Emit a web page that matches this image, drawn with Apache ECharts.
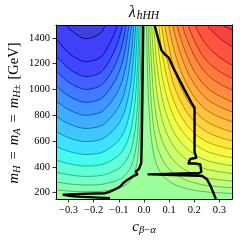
<!DOCTYPE html>
<html><head><meta charset="utf-8">
<script src="https://cdn.jsdelivr.net/npm/echarts@6/dist/echarts.min.js"></script>
<style>html,body{margin:0;padding:0;background:#fff}#c{width:240px;height:242px}</style>
</head><body><div id="c"></div>
<script>
// ---- tick labels ----
const xTicks = [-0.3, -0.2, -0.1, 0.0, 0.1, 0.2, 0.3];
const yTicks = [200, 400, 600, 800, 1000, 1200, 1400];

// ---- contour lines: [c_beta-alpha, m_H] ----
// negative levels (left), innermost first
const negLevel1 = [[-0.31,1500],[-0.30,1477],[-0.27,1428],[-0.235,1395],[-0.20,1408],[-0.17,1442],[-0.154,1500]];
const negLevel2 = [[-0.35,1395],[-0.32,1324],[-0.30,1285],[-0.27,1243],[-0.235,1215],[-0.20,1226],[-0.17,1255],[-0.145,1324],[-0.12,1426],[-0.106,1500]];
const negLevel3 = [[-0.35,1261],[-0.32,1198],[-0.30,1163],[-0.27,1125],[-0.235,1100],[-0.20,1110],[-0.17,1136],[-0.145,1198],[-0.12,1289],[-0.10,1387],[-0.085,1500]];
const negLevel4 = [[-0.35,1145],[-0.32,1088],[-0.30,1057],[-0.27,1023],[-0.235,1000],[-0.20,1009],[-0.17,1032],[-0.145,1088],[-0.12,1170],[-0.10,1258],[-0.08,1400],[-0.072,1500]];
const negLevel5 = [[-0.35,1029],[-0.32,978],[-0.30,950],[-0.27,920],[-0.235,900],[-0.20,908],[-0.17,929],[-0.145,978],[-0.12,1050],[-0.10,1129],[-0.08,1255],[-0.065,1427],[-0.06,1500]];
const negLevel6 = [[-0.35,912],[-0.32,868],[-0.30,844],[-0.27,818],[-0.235,800],[-0.20,807],[-0.17,825],[-0.145,868],[-0.12,931],[-0.10,1000],[-0.08,1110],[-0.065,1260],[-0.0495,1500]];
const negLevel7 = [[-0.35,793],[-0.32,755],[-0.30,734],[-0.27,712],[-0.235,697],[-0.20,703],[-0.17,718],[-0.145,755],[-0.12,809],[-0.10,867],[-0.08,961],[-0.065,1088],[-0.05,1284],[-0.041,1500]];
const negLevel8 = [[-0.35,674],[-0.32,643],[-0.30,626],[-0.27,607],[-0.235,595],[-0.20,600],[-0.17,613],[-0.145,643],[-0.12,687],[-0.10,736],[-0.08,813],[-0.065,918],[-0.05,1080],[-0.035,1421],[-0.033,1500]];
const negLevel9 = [[-0.35,558],[-0.32,533],[-0.30,520],[-0.27,505],[-0.235,495],[-0.20,499],[-0.17,509],[-0.145,533],[-0.12,568],[-0.10,607],[-0.08,668],[-0.065,752],[-0.05,880],[-0.035,1151],[-0.026,1500]];
const negLevel10 = [[-0.35,453],[-0.32,434],[-0.30,424],[-0.27,413],[-0.235,405],[-0.20,408],[-0.17,416],[-0.145,434],[-0.12,461],[-0.10,491],[-0.08,538],[-0.065,602],[-0.05,700],[-0.035,907],[-0.025,1203],[-0.020,1500]];
const negLevel11 = [[-0.35,360],[-0.32,346],[-0.30,339],[-0.27,330],[-0.235,325],[-0.20,327],[-0.17,333],[-0.145,346],[-0.12,366],[-0.10,387],[-0.08,422],[-0.065,468],[-0.05,540],[-0.035,691],[-0.025,906],[-0.015,1500]];
const negLevel12 = [[-0.35,282],[-0.32,273],[-0.30,267],[-0.27,262],[-0.235,258],[-0.20,259],[-0.17,263],[-0.145,273],[-0.12,286],[-0.10,301],[-0.08,324],[-0.065,357],[-0.05,406],[-0.035,510],[-0.025,658],[-0.015,1065],[-0.0105,1500]];
const negLevel13 = [[-0.35,222],[-0.32,215],[-0.30,212],[-0.27,208],[-0.235,206],[-0.20,207],[-0.17,209],[-0.145,215],[-0.12,224],[-0.10,234],[-0.08,249],[-0.065,270],[-0.05,302],[-0.035,369],[-0.025,466],[-0.015,729],[-0.008,1310],[-0.007,1500]];

// positive levels (right), innermost (corner) first
const posLevel0 = [[0.35,1462],[0.33,1480],[0.31,1500]];
const posLevel1 = [[0.35,1332],[0.32,1370],[0.29,1417],[0.26,1475],[0.25,1500]];
const posLevel2 = [[0.35,1190],[0.32,1223],[0.29,1265],[0.26,1317],[0.23,1396],[0.203,1500]];
const posLevel3 = [[0.35,1086],[0.32,1116],[0.29,1154],[0.26,1200],[0.23,1272],[0.20,1378],[0.175,1500]];
const posLevel4 = [[0.35,996],[0.32,1023],[0.29,1058],[0.26,1100],[0.23,1165],[0.20,1261],[0.17,1394],[0.152,1500]];
const posLevel5 = [[0.35,905],[0.32,930],[0.29,960],[0.26,998],[0.23,1056],[0.20,1142],[0.17,1262],[0.14,1435],[0.131,1500]];
const posLevel6 = [[0.35,827],[0.32,849],[0.29,877],[0.26,911],[0.23,964],[0.20,1041],[0.17,1149],[0.14,1305],[0.114,1500]];
const posLevel7 = [[0.35,750],[0.32,770],[0.29,794],[0.26,825],[0.23,872],[0.20,941],[0.17,1038],[0.14,1177],[0.115,1341],[0.098,1500]];
const posLevel8 = [[0.35,672],[0.32,689],[0.29,711],[0.26,738],[0.23,779],[0.20,840],[0.17,925],[0.14,1047],[0.115,1191],[0.09,1417],[0.083,1500]];
const posLevel9 = [[0.35,602],[0.32,617],[0.29,636],[0.26,660],[0.23,696],[0.20,749],[0.17,823],[0.14,930],[0.115,1056],[0.09,1254],[0.0695,1500]];
const posLevel10 = [[0.35,535],[0.32,548],[0.29,565],[0.26,585],[0.23,616],[0.20,662],[0.17,726],[0.14,818],[0.115,927],[0.09,1098],[0.07,1307],[0.0585,1500]];
const posLevel11 = [[0.35,470],[0.32,481],[0.29,495],[0.26,512],[0.23,539],[0.20,578],[0.17,632],[0.14,710],[0.115,802],[0.09,947],[0.07,1124],[0.05,1443],[0.0478,1500]];
const posLevel12 = [[0.35,408],[0.32,417],[0.29,429],[0.26,443],[0.23,465],[0.20,497],[0.17,542],[0.14,607],[0.115,683],[0.09,803],[0.07,949],[0.05,1214],[0.0388,1500]];
const posLevel13 = [[0.35,348],[0.32,355],[0.29,365],[0.26,376],[0.23,393],[0.20,419],[0.17,455],[0.14,507],[0.115,568],[0.09,663],[0.07,780],[0.05,991],[0.035,1330],[0.0306,1500]];
const posLevel14 = [[0.35,289],[0.32,295],[0.29,301],[0.26,310],[0.23,323],[0.20,342],[0.17,369],[0.14,408],[0.115,454],[0.09,526],[0.07,614],[0.05,773],[0.035,1028],[0.025,1389],[0.0229,1500]];
const posLevel15 = [[0.35,237],[0.32,241],[0.29,246],[0.26,252],[0.23,261],[0.20,275],[0.17,294],[0.14,322],[0.115,354],[0.09,405],[0.07,468],[0.05,580],[0.035,761],[0.025,1017],[0.0158,1500]];
const posLevel16 = [[0.35,193],[0.32,196],[0.29,199],[0.26,203],[0.23,209],[0.20,218],[0.17,230],[0.14,248],[0.115,270],[0.09,303],[0.07,344],[0.05,417],[0.035,536],[0.025,703],[0.015,1064],[0.0103,1500]];

// thick black boundary lines
const boundaryLeft = [[-0.003,1500],[-0.005,1150],[-0.007,850],[-0.009,600],[-0.011,430],[-0.020,383],[-0.032,364],[-0.027,340],[-0.045,325],[-0.065,300],[-0.082,274],[-0.092,252],[-0.100,240],[-0.118,222],[-0.140,203],[-0.155,195],[-0.250,190],[-0.320,183],[-0.325,176],[-0.280,170],[-0.200,163],[-0.135,157]];
const boundaryRight = [[0.042,1500],[0.056,1397],[0.069,1307],[0.085,1268],[0.098,1247],[0.124,1138],[0.158,1008],[0.190,892],[0.201,858],[0.201,517],[0.208,470],[0.184,460],[0.177,426],[0.204,426],[0.224,418],[0.228,361],[0.220,352],[0.018,341],[0.220,330],[0.232,328],[0.250,304],[0.263,258],[0.277,193],[0.286,150]];

const negContours = [negLevel1,negLevel2,negLevel3,negLevel4,negLevel5,negLevel6,negLevel7,negLevel8,negLevel9,negLevel10,negLevel11,negLevel12,negLevel13];
const posContours = [posLevel0,posLevel1,posLevel2,posLevel3,posLevel4,posLevel5,posLevel6,posLevel7,posLevel8,posLevel9,posLevel10,posLevel11,posLevel12,posLevel13,posLevel14,posLevel15,posLevel16];

// ---- styling helpers ----
function jet(v){
  const f = (pts)=>{ for(let i=1;i<pts.length;i++){ if(v<=pts[i][0]){const a=pts[i-1],b=pts[i]; return a[1]+(b[1]-a[1])*(v-a[0])/(b[0]-a[0]);} } return pts[pts.length-1][1]; };
  return [f([[0,0],[0.35,0],[0.66,1],[0.89,1],[1,0.5]]), f([[0,0],[0.125,0],[0.375,1],[0.64,1],[0.91,0],[1,0]]), f([[0,0.5],[0.11,1],[0.34,1],[0.65,0],[1,0]])];
}
function fillCol(v){ const c=jet(v), a=0.75; return 'rgb('+c.map(x=>Math.round(255*(1-a)+255*a*x)).join(',')+')'; }
function lineCol(v){ const c=jet(v), k=0.68; return 'rgb('+c.map(x=>Math.round(255*k*x)).join(',')+')'; }
const FONT = 'Liberation Serif';

function smoothPath(P, s){
  const n=P.length; const cp=[];
  for(let i=0;i<n;i++){
    const pr=P[Math.max(i-1,0)], nx=P[Math.min(i+1,n-1)], p=P[i];
    const vx=nx[0]-pr[0], vy=nx[1]-pr[1];
    const d0=Math.hypot(p[0]-pr[0],p[1]-pr[1]), d1=Math.hypot(nx[0]-p[0],nx[1]-p[1]);
    const t=(d0+d1)||1;
    cp.push([[p[0]-vx*s*d0/t,p[1]-vy*s*d0/t],[p[0]+vx*s*d1/t,p[1]+vy*s*d1/t]]);
  }
  let d='M'+P[0][0]+' '+P[0][1];
  for(let i=1;i<n;i++){ const a=cp[i-1][1], b=cp[i][0]; d+=' C'+a[0]+' '+a[1]+' '+b[0]+' '+b[1]+' '+P[i][0]+' '+P[i][1]; }
  return d;
}
function fillSeries(pts, corner, color){
  return {type:'custom', coordinateSystem:'cartesian2d', data:pts, encode:{x:0,y:1}, z:1, silent:true, clip:true,
    renderItem(params, api){
      if(params.dataIndex!==0) return null;
      const P=pts.map(p=>api.coord(p)); const C=api.coord(corner);
      return {type:'path', shape:{pathData: smoothPath(P,0.33)+' L'+C[0]+' '+C[1]+' Z'}, style:{fill:color, stroke:null, lineWidth:0}};
    }};
}
function lineSeries(pts, color){
  return {type:'custom', coordinateSystem:'cartesian2d', data:pts, encode:{x:0,y:1}, z:2, silent:true, clip:true,
    renderItem(params, api){
      if(params.dataIndex!==0) return null;
      const P=pts.map(p=>api.coord(p));
      return {type:'path', shape:{pathData: smoothPath(P,0.33)}, style:{fill:null, stroke:color, lineWidth:0.9}};
    }};
}

const series=[];
for(let j=negContours.length-1;j>=0;j--) series.push(fillSeries(negContours[j], [-0.35,1500], fillCol(0.07+j*0.033)));
for(let j=posContours.length-1;j>=0;j--) series.push(fillSeries(posContours[j], [0.35,1500], fillCol(0.5+(17-j)*0.0253)));
negContours.forEach((pts,j)=>series.push(lineSeries(pts, lineCol(0.07+(j+0.5)*0.033))));
posContours.forEach((pts,j)=>series.push(lineSeries(pts, lineCol(0.5+(16.5-j)*0.0253))));
[boundaryLeft,boundaryRight].forEach(b=>series.push({type:'line', data:b, showSymbol:false, symbol:'none', z:5, silent:true,
  lineStyle:{color:'#000', width:2.4, join:'round'}, animation:false}));

const lab = {fontFamily:FONT, fontSize:10.5, color:'#000'};
const chart = echarts.init(document.getElementById('c'), null, {renderer:'canvas'});
chart.setOption({
  animation:false,
  grid:{left:56, right:8, top:25, bottom:43, show:true, backgroundColor:fillCol(0.5), borderWidth:0},
  xAxis:[
    {type:'value', min:-0.35, max:0.35, position:'bottom', z:10,
     axisLine:{show:true, onZero:false, lineStyle:{color:'#000', width:1}},
     axisTick:{show:true, customValues:xTicks, length:3.5, lineStyle:{color:'#000', width:0.8}},
     axisLabel:Object.assign({customValues:xTicks, margin:6, formatter:v=>(v<-1e-9?'\u2212':'')+Math.abs(v).toFixed(1)}, lab),
     splitLine:{show:false}},
    {type:'value', min:-0.35, max:0.35, position:'top', z:10,
     axisLine:{show:true, onZero:false, lineStyle:{color:'#000', width:1}},
     axisTick:{show:false}, axisLabel:{show:false}, splitLine:{show:false}}
  ],
  yAxis:[
    {type:'value', min:150, max:1500, position:'left', z:10,
     axisLine:{show:true, onZero:false, lineStyle:{color:'#000', width:1}},
     axisTick:{show:true, customValues:yTicks, length:3.5, lineStyle:{color:'#000', width:0.8}},
     axisLabel:Object.assign({customValues:yTicks, margin:6, formatter:v=>String(Math.round(v))}, lab),
     splitLine:{show:false}},
    {type:'value', min:150, max:1500, position:'right', z:10,
     axisLine:{show:true, onZero:false, lineStyle:{color:'#000', width:1}},
     axisTick:{show:false}, axisLabel:{show:false}, splitLine:{show:false}}
  ],
  graphic:[
    {type:'text', x:144, y:13, z:20, style:{text:'{a|\u03bb}{b|hHH}', align:'center', verticalAlign:'middle',
      rich:{a:{fontFamily:FONT, fontSize:16, fontStyle:'italic', fill:'#000'}, b:{fontFamily:FONT, fontSize:11.5, fontStyle:'italic', fill:'#000', padding:[6,0,0,1]}}}},
    {type:'text', x:144, y:227, z:20, style:{text:'{a|c}{b|\u03b2}{m|\u2212}{b|\u03b1}', align:'center', verticalAlign:'middle',
      rich:{a:{fontFamily:FONT, fontSize:15, fontStyle:'italic', fill:'#000'}, b:{fontFamily:FONT, fontSize:10.5, fontStyle:'italic', fill:'#000', padding:[6,0,0,0]}, m:{fontFamily:FONT, fontSize:10.5, fill:'#000', padding:[6,0,0,0]}}}},
    {type:'text', x:14, y:113, rotation:Math.PI/2, z:20, style:{text:'{a|m}{b|H}{e|=}{a|m}{b|A}{e|=}{a|m}{b|H\u00b1}{g|[GeV]}', align:'center', verticalAlign:'middle',
      rich:{a:{fontFamily:FONT, fontSize:14.5, fontStyle:'italic', fill:'#000'}, b:{fontFamily:FONT, fontSize:10.5, fontStyle:'italic', fill:'#000', padding:[6,0,0,0]},
            e:{fontFamily:FONT, fontSize:14.5, fill:'#000', padding:[0,6,0,6]}, g:{fontFamily:FONT, fontSize:14.5, fill:'#000', padding:[0,0,0,5]}}}}
  ],
  series
});
</script></body></html>
